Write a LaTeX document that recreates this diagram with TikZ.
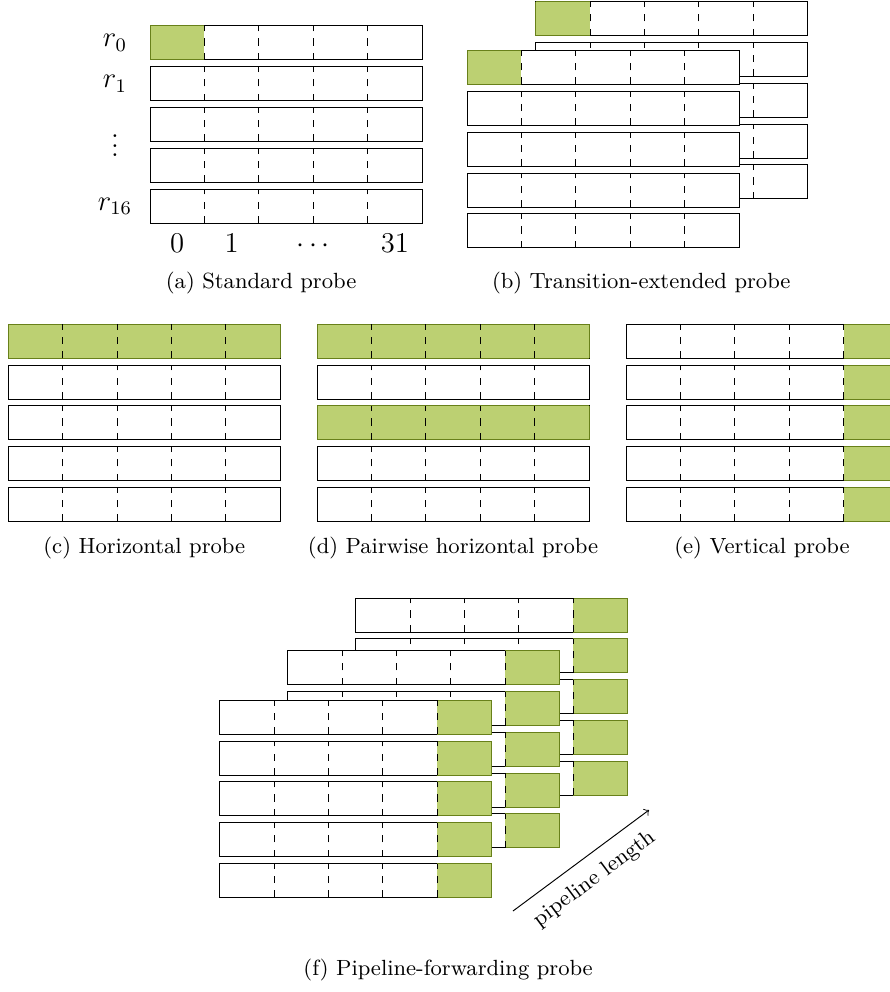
\documentclass[tikz,border=0pt]{standalone}

\definecolor{verde}{RGB}{188,208,114}
\definecolor{oliva}{RGB}{104,128,26}

\tikzset{
	subtitulo/.style={font=\fontsize{9.2}{11}\selectfont},
	etiqueta/.style={font=\large},
}

% fila de 5 celdas: #1,#2 esquina inferior izquierda, #3 celdas verdes (0 = ninguna)
\newcommand{\fila}[3]{%
	\filldraw[fill=white] (#1,#2) rectangle ++(4,0.5);
	\foreach \c in {#3} {%
		\ifnum\c>0
			\fill[verde] (#1+0.8*\c-0.8,#2) rectangle ++(0.8,0.5);
			\draw[oliva] (#1+0.8*\c-0.8,#2) -- ++(0.8,0) (#1+0.8*\c-0.8,#2+0.5) -- ++(0.8,0);
			\ifnum\c=1 \draw[oliva] (#1,#2) -- ++(0,0.5); \fi
			\ifnum\c=5 \draw[oliva] (#1+4,#2) -- ++(0,0.5); \fi
		\fi
	}
	\foreach \k in {1,...,4} \draw[dashed] (#1+0.8*\k,#2) -- ++(0,0.5);
}

% pila de 5 filas con fondo blanco: #3 verdes de la primera fila, #4 de las demas
\newcommand{\pila}[4]{%
	\fill[white] (#1,#2-2.4) rectangle (#1+4,#2+0.5);
	\fila{#1}{#2}{#3}
	\foreach \i in {1,...,4} {\fila{#1}{#2-0.6*\i}{#4}}
}

\begin{document}
\begin{tikzpicture}
		\useasboundingbox (0,0) rectangle (13.088,14.588);
		
		% (a) Sonda estandar
		\pila{2.206}{13.706}{1}{0}
		\node[etiqueta] (r0) at (1.69,13.956) {$r_0$};
		\node[etiqueta] (r1) at (1.69,13.356) {$r_1$};
		\node[etiqueta] (rpuntos) at (1.69,12.55) {$\vdots$};
		\node[etiqueta] (r16) at (1.69,11.556) {$r_{16}$};
		\node[etiqueta, anchor=base] (c0) at (2.606,10.88) {0};
		\node[etiqueta, anchor=base] (c1) at (3.406,10.88) {1};
		\node[etiqueta, anchor=base] (cpuntos) at (4.606,10.88) {$\cdots$};
		\node[etiqueta, anchor=base] (c31) at (5.806,10.88) {31};
		\node[subtitulo] (capa) at (3.84,10.43) {(a) Standard probe};
		
		% (b) Sonda extendida (pila trasera y pila delantera)
		\pila{7.878}{14.063}{1}{0}
		\pila{6.868}{13.343}{1}{0}
		\node[subtitulo] (capb) at (9.43,10.43) {(b) Transition-extended probe};
		
		% (c) Sonda horizontal
		\pila{0.122}{9.319}{1,2,3,4,5}{0}
		\node[subtitulo] (capc) at (2.122,6.53) {(c) Horizontal probe};
		
		% (d) Sonda horizontal por pares
		\fila{4.662}{9.319}{1,2,3,4,5}
		\fila{4.662}{8.719}{0}
		\fila{4.662}{8.119}{1,2,3,4,5}
		\fila{4.662}{7.519}{0}
		\fila{4.662}{6.919}{0}
		\node[subtitulo] (capd) at (6.662,6.53) {(d) Pairwise horizontal probe};
		
		% (e) Sonda vertical
		\pila{9.206}{9.319}{5}{5}
		\node[subtitulo] (cape) at (11.206,6.53) {(e) Vertical probe};
		
		% (f) Sonda con reenvio: tres pilas, de atras hacia adelante
		\pila{5.231}{5.294}{5}{5}
		\pila{4.231}{4.519}{5}{5}
		\pila{3.231}{3.789}{5}{5}
		\coordinate (ini) at (7.544,1.191);
		\coordinate (fin) at (9.544,2.676);
		\draw[->] (ini) -- (fin) node[midway, below=2pt, sloped, subtitulo] (largo) {pipeline length};
		\node[subtitulo] (capf) at (6.59,0.32) {(f) Pipeline-forwarding probe};
	\end{tikzpicture}
\end{document}
